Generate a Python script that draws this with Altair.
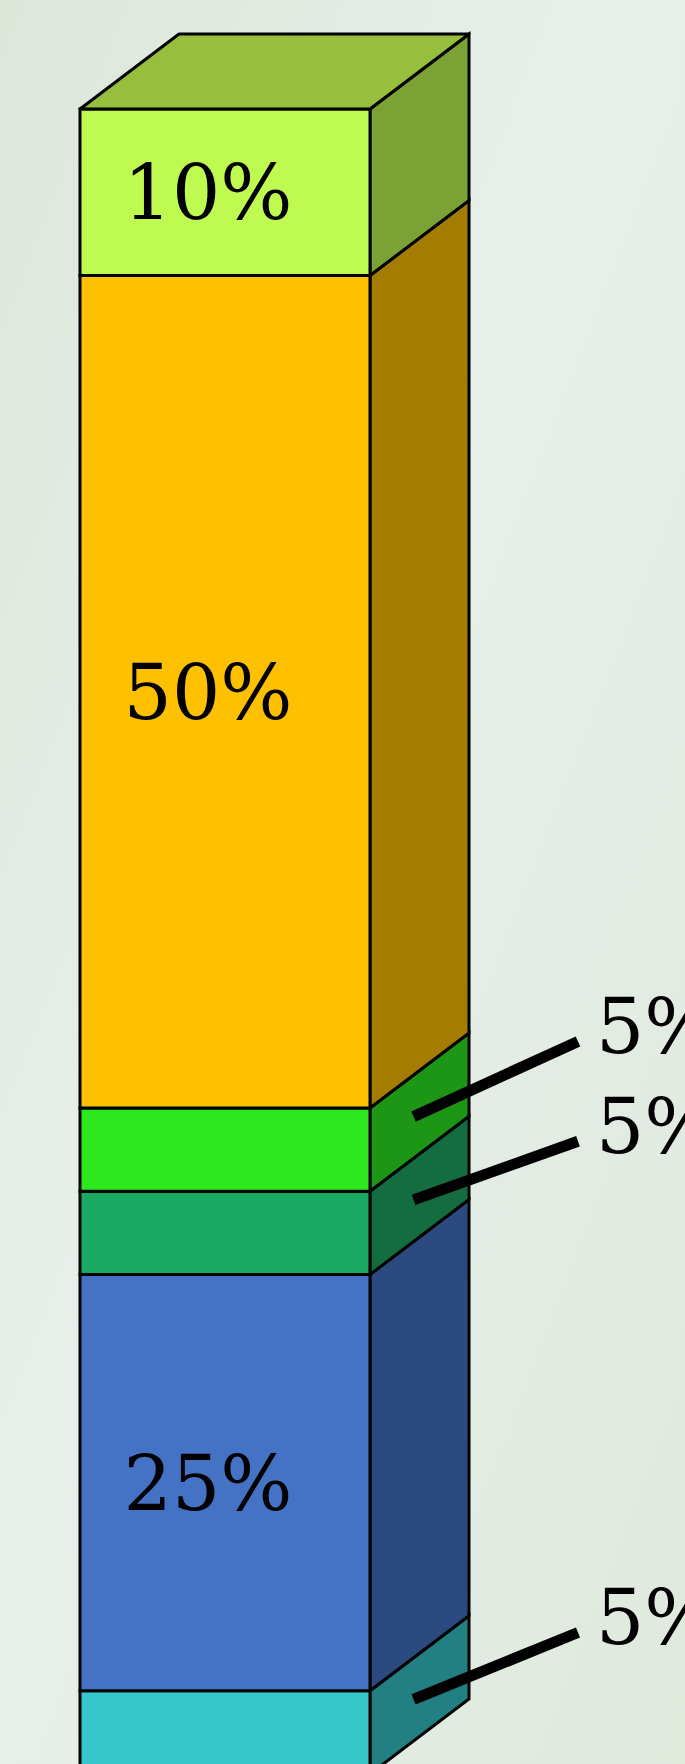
import altair as alt
import pandas as pd

# ---- data (bottom to top) ----
segments = ["Cyan", "Blue", "Teal", "Green", "Yellow", "Lime"]
values = [5, 25, 5, 5, 50, 10]
front_colors = ["#36C7CC", "#4472C4", "#1BA863", "#2EE81E", "#FFC000", "#BFFA50"]
side_colors = ["#227F82", "#2A4A80", "#146D40", "#1C9614", "#A37C00", "#7BA235"]
top_color = "#95BF3C"
labels = [f"{v}%" for v in values]

# ---- geometry (scale units: bar width = 1, y in percent) ----
W, H = 685, 1764
PX_UNIT = 290.0
PX_PCT = 16.65
LEFT_PX = 80.0
BOTTOM_PX = 1774.0
DX = 99.0 / PX_UNIT
DY = 75.0 / PX_PCT
xdom = [-LEFT_PX / PX_UNIT, (W - LEFT_PX) / PX_UNIT]
ydom = [(BOTTOM_PX - H) / PX_PCT, BOTTOM_PX / PX_PCT]

lo, hi, acc = [], [], 0.0
for v in values:
    lo.append(acc)
    acc += v
    hi.append(acc)
total = acc

front = pd.DataFrame({
    "seg": segments, "value": values, "lo": lo, "hi": hi,
    "x0": 0.0, "x1": 1.0, "label": labels, "fc": front_colors,
})
front["mid"] = (front["lo"] + front["hi"]) / 2

side_rows = []
for s, l, h, c in zip(segments, lo, hi, side_colors):
    side_rows.append({"seg": s, "x": 1.0, "ya": l, "yb": h, "sc": c})
    side_rows.append({"seg": s, "x": 1.0 + DX, "ya": l + DY, "yb": h + DY, "sc": c})
side = pd.DataFrame(side_rows)

top = pd.DataFrame({
    "x": [0.0, DX, 1.0, 1.0 + DX],
    "ya": [total, total, total, total + DY],
    "yb": [total, total + DY, total + DY, total + DY],
})

# leader lines for small segments
small = front[front["value"] < 10].copy().sort_values("mid").reset_index(drop=True)
ends = list(small["mid"] + 6.0)
for i in range(len(ends) - 1, 0, -1):
    gap = ends[i] - ends[i - 1]
    if gap < 6.0:
        d = (6.0 - gap) / 2
        ends[i] += d
        ends[i - 1] -= d
small["ye"] = ends
small["xs"] = 1.0 + 0.44 * DX
small["ys"] = small["mid"] + 0.44 * DY
small["xe"] = (578.0 - LEFT_PX) / PX_UNIT
big = front[front["value"] >= 10].copy()
big["xc"] = 0.5

xs = alt.Scale(domain=xdom, nice=False, zero=False)
ys = alt.Scale(domain=ydom, nice=False, zero=False)

bg = alt.Chart(pd.DataFrame({"a": [0]})).mark_rect(
    fill=alt.Gradient(
        gradient="linear", x1=0, y1=0, x2=1, y2=1,
        stops=[
            alt.GradientStop(color="#dce7da", offset=0),
            alt.GradientStop(color="#e7efea", offset=0.45),
            alt.GradientStop(color="#dfe9dc", offset=1),
        ],
    )
).encode(x=alt.value(0), x2=alt.value(W), y=alt.value(0), y2=alt.value(H))

SW = 3

side_layer = alt.Chart(side).mark_area(
    stroke="black", strokeWidth=SW, interpolate="linear", orient="vertical",
    strokeJoin="miter",
).encode(
    x=alt.X("x:Q", scale=xs, axis=None),
    y=alt.Y("ya:Q", scale=ys, axis=None, stack=None),
    y2="yb:Q",
    fill=alt.Fill("sc:N", scale=None),
    detail="seg:N",
)

front_layer = alt.Chart(front).mark_rect(stroke="black", strokeWidth=SW).encode(
    x=alt.X("x0:Q", scale=xs, axis=None),
    x2="x1:Q",
    y=alt.Y("lo:Q", scale=ys, axis=None),
    y2="hi:Q",
    fill=alt.Fill("fc:N", scale=None),
)

top_layer = alt.Chart(top).mark_area(
    fill=top_color, stroke="black", strokeWidth=SW, interpolate="linear",
    orient="vertical", strokeJoin="round",
).encode(
    x=alt.X("x:Q", scale=xs, axis=None),
    y=alt.Y("ya:Q", scale=ys, axis=None, stack=None),
    y2="yb:Q",
)

inner_text = alt.Chart(big).mark_text(
    font="DejaVu Serif", fontSize=76, color="black", align="center",
    baseline="alphabetic", dx=-17, dy=27,
).encode(
    x=alt.X("xc:Q", scale=xs, axis=None),
    y=alt.Y("mid:Q", scale=ys, axis=None),
    text="label:N",
)

leaders = alt.Chart(small).mark_rule(color="black", strokeWidth=11, strokeCap="butt").encode(
    x=alt.X("xs:Q", scale=xs, axis=None),
    x2="xe:Q",
    y=alt.Y("ys:Q", scale=ys, axis=None),
    y2="ye:Q",
)

outer_text = alt.Chart(small).mark_text(
    font="DejaVu Serif", fontSize=76, color="black", align="left",
    baseline="alphabetic", dx=18, dy=12,
).encode(
    x=alt.X("xe:Q", scale=xs, axis=None),
    y=alt.Y("ye:Q", scale=ys, axis=None),
    text="label:N",
)

chart = alt.layer(
    bg, side_layer, front_layer, top_layer, inner_text, leaders, outer_text
).properties(
    width=W, height=H, padding=0, autosize=alt.AutoSizeParams(type="none"),
    background="#e2ebe0",
).configure_view(stroke=None)

chart.save("out.html", embed_options={"renderer": "svg", "actions": False})
